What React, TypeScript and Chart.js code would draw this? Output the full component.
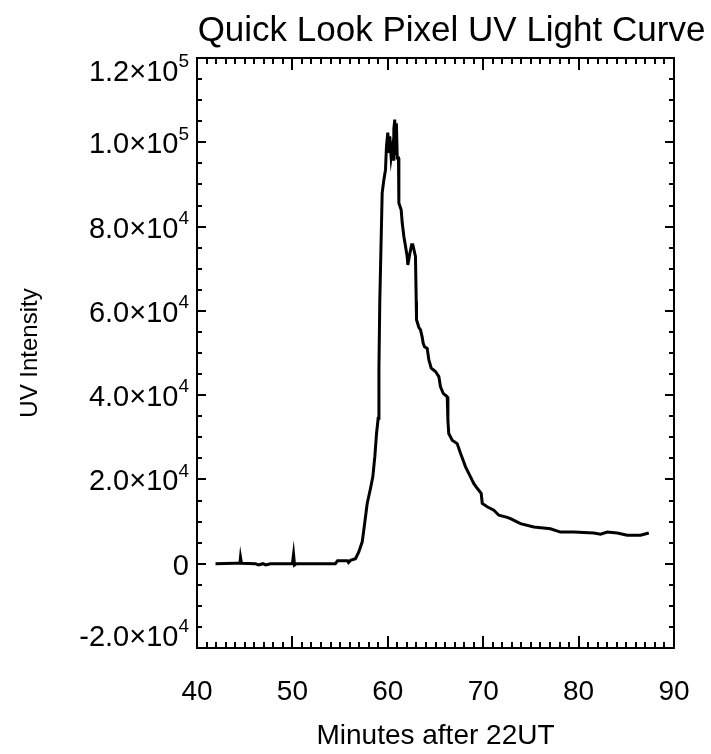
import React, { useEffect, useRef } from "react";
import { Chart, registerables } from "chart.js";

Chart.register(...registerables);

const FONT = "'Liberation Sans', Arial, Helvetica, sans-serif";

const TITLE = "Quick Look Pixel UV Light Curve";
const X_TITLE = "Minutes after 22UT";
const Y_TITLE = "UV Intensity";

// Time (minutes after 22 UT)
const minutes = [
  41.94, 44.0, 44.5, 44.56, 44.66, 46.1, 46.45, 46.9, 47.2, 47.7,
  50.0, 50.12, 50.22, 50.4, 54.5, 54.73, 55.78, 55.88, 56.09, 56.61,
  56.96, 57.32, 57.48, 57.66, 57.84, 58.19, 58.43, 58.64, 58.82, 58.99,
  59.07, 59.16, 59.41, 59.58, 59.76, 59.86, 60.0, 60.1, 60.21, 60.35,
  60.46, 60.55, 60.63, 60.73, 60.81, 60.9, 60.99, 61.12, 61.16, 61.4,
  61.51, 61.68, 61.86, 62.03, 62.1, 62.3, 62.5, 62.62, 62.9, 62.98,
  63.01, 63.25, 63.43, 63.61, 63.71, 63.85, 64.13, 64.3, 64.55, 65.0,
  65.35, 65.52, 65.81, 66.23, 66.3, 66.39, 66.75, 67.27, 67.62, 68.15,
  68.67, 69.02, 69.37, 69.79, 69.9, 70.42, 70.77, 71.11, 71.64, 72.52,
  72.86, 73.91, 75.3, 77.05, 78.1, 79.5, 81.59, 82.3, 83.0, 84.05,
  85.09, 86.49, 87.36,
];

// UV intensity
const intensity = [
  0, 100, 100, 1500, 100, 0, -300, 0, -300, 0,
  0, 2200, -300, 0, 0, 700, 700, 300, 800, 1200,
  2800, 5200, 7900, 11100, 14300, 17900, 20600, 25400, 30900, 34500,
  46400, 62200, 88000, 91000, 93500, 99000, 102300, 97500, 101400, 96500,
  98300, 96000, 103000, 105400, 97000, 104500, 96300, 96300, 85600, 84000,
  80900, 77700, 75300, 72900, 70900, 73500, 75700, 75700, 72900, 62200,
  57900, 56100, 55500, 53700, 52300, 51500, 51100, 48400, 46400, 45600,
  44400, 42000, 40400, 39600, 34000, 30900, 29300, 28500, 26200, 23000,
  20600, 19000, 17900, 16700, 14300, 13500, 13100, 12700, 11500, 11000,
  10700, 9500, 8700, 8300, 7500, 7500, 7300, 7000, 7500, 7300,
  6750, 6750, 7300,
];

const xTickValues = [40, 50, 60, 70, 80, 90];
const yTickValues = [-20000, 0, 20000, 40000, 60000, 80000, 100000, 120000];
const yTickMantissas = ["-2.0", "0", "2.0", "4.0", "6.0", "8.0", "1.0", "1.2"];
const yTickExponents = ["4", "", "4", "4", "4", "4", "5", "5"];

const idlPlugin = {
  id: "idlFrame",
  afterDraw(chart: any) {
    const { ctx, chartArea: a, scales } = chart;
    const xs = scales.x;
    const ys = scales.y;
    ctx.save();
    ctx.strokeStyle = "#000";
    ctx.lineWidth = 2;
    ctx.strokeRect(a.left, a.top, a.right - a.left, a.bottom - a.top);

    ctx.beginPath();
    for (let v = xs.min + 1; v < xs.max; v += 1) {
      const px = Math.round(xs.getPixelForValue(v));
      const len = v % 10 === 0 ? 12 : 6;
      ctx.moveTo(px, a.bottom);
      ctx.lineTo(px, a.bottom - len);
      ctx.moveTo(px, a.top);
      ctx.lineTo(px, a.top + len);
    }
    for (let v = ys.min + 5000; v < ys.max; v += 5000) {
      const py = Math.round(ys.getPixelForValue(v));
      const len = v % 20000 === 0 ? 9 : 5;
      ctx.moveTo(a.left, py);
      ctx.lineTo(a.left + len, py);
      ctx.moveTo(a.right, py);
      ctx.lineTo(a.right - len, py);
    }
    ctx.stroke();

    // y tick labels with superscript exponents
    ctx.fillStyle = "#000";
    ctx.textBaseline = "middle";
    const rightEdge = a.left - 8;
    yTickValues.forEach((v, i) => {
      let y = ys.getPixelForValue(v) + 3;
      y = Math.min(Math.max(y, a.top + 15), a.bottom - 10);
      const exp = yTickExponents[i];
      const main = yTickMantissas[i] + (exp ? "\u00d710" : "");
      ctx.font = `19px ${FONT}`;
      const supW = exp ? ctx.measureText(exp).width : 0;
      ctx.textAlign = "right";
      if (exp) {
        ctx.fillText(exp, rightEdge, y - 11);
      }
      ctx.font = `29px ${FONT}`;
      ctx.fillText(main, rightEdge - supW, y);
    });

    // title
    ctx.font = `35px ${FONT}`;
    ctx.textAlign = "center";
    ctx.textBaseline = "middle";
    ctx.fillText(TITLE, (a.left + a.right) / 2 + 16, 31);
    ctx.restore();
  },
};

export default function App() {
  const ref = useRef<HTMLCanvasElement | null>(null);

  useEffect(() => {
    if (!ref.current) return;
    const points = minutes.map((m, i) => ({ x: m, y: intensity[i] }));
    const chart = new Chart(ref.current, {
      type: "line",
      data: {
        datasets: [
          {
            data: points,
            borderColor: "#000",
            borderWidth: 3,
            pointRadius: 0,
            tension: 0,
            fill: false,
          },
        ],
      },
      options: {
        responsive: false,
        animation: false,
        layout: { padding: { top: 58, right: 37, left: 0, bottom: 0 } },
        plugins: {
          legend: { display: false },
          tooltip: { enabled: false },
          title: { display: false },
        },
        scales: {
          x: {
            type: "linear",
            min: 40,
            max: 90,
            afterFit: (s: any) => {
              s.height = 106;
            },
            afterBuildTicks: (s: any) => {
              s.ticks = xTickValues.map((v) => ({ value: v }));
            },
            grid: { display: false, drawTicks: true, tickLength: 27 },
            border: { display: false },
            ticks: {
              color: "#000",
              font: { family: FONT, size: 28 },
              padding: 0,
              maxRotation: 0,
              autoSkip: false,
            },
            title: {
              display: true,
              text: X_TITLE,
              color: "#000",
              font: { family: FONT, size: 28 },
              padding: { top: 0, bottom: 1 },
            },
          },
          y: {
            type: "linear",
            min: -20000,
            max: 120000,
            afterFit: (s: any) => {
              s.width = 197;
            },
            grid: { display: false, drawTicks: false },
            border: { display: false },
            ticks: { display: false, stepSize: 20000 },
            title: {
              display: true,
              text: Y_TITLE,
              color: "#000",
              font: { family: FONT, size: 24 },
              padding: { top: 16, bottom: 0 },
            },
          },
        },
      },
      plugins: [idlPlugin],
    });
    return () => chart.destroy();
  }, []);

  return (
    <div style={{ position: "absolute", left: 0, top: 0, width: 711, height: 754, background: "#fff" }}>
      <canvas ref={ref} width={711} height={754} style={{ display: "block" }} />
    </div>
  );
}
